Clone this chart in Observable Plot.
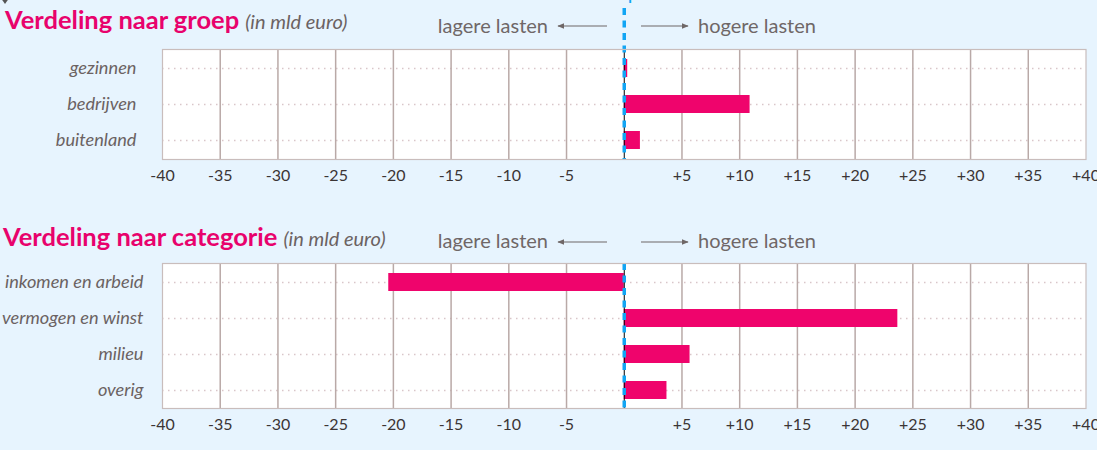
<!DOCTYPE html>
<html><head><meta charset="utf-8">
<script src="https://cdn.jsdelivr.net/npm/d3@7"></script>
<script src="https://cdn.jsdelivr.net/npm/@observablehq/plot@0.6"></script>
<style>
html,body{margin:0;padding:0;background:#e7f4fe;}
#wrap{position:relative;width:1097px;height:450px;overflow:hidden;font-family:Lato,sans-serif;}
.chart{position:absolute;left:0;}
#header{position:absolute;left:0;top:0;pointer-events:none;}
</style></head><body><div id="wrap"></div>
<script>
// ---- data ----
const groepCategories = ["gezinnen", "bedrijven", "buitenland"];
const groepValues = [0.3, 10.9, 1.4];
const categorieCategories = ["inkomen en arbeid", "vermogen en winst", "milieu", "overig"];
const categorieValues = [-20.4, 23.7, 5.7, 3.7];
const xTicks = [-40, -35, -30, -25, -20, -15, -10, -5, 5, 10, 15, 20, 25, 30, 35, 40];
const gridTicks = [-35, -30, -25, -20, -15, -10, -5, 5, 10, 15, 20, 25, 30, 35];
const titles = ["Verdeling naar groep", "Verdeling naar categorie"];
const subtitle = "(in mld euro)";
const leftLabel = "lagere lasten";
const rightLabel = "hogere lasten";
const baseLabel = "Basispad";

const PINK = "#ef046c";
const BLUE = "#12a5f4";
const fmt = d => d > 0 ? "+" + d : "-" + Math.abs(d);

const wrap = document.getElementById("wrap");

function makeChart(cats, vals, top, height, marginBottom, yPad, dashInset) {
  const data = cats.map((c, i) => ({category: c, value: vals[i]}));
  const svg = Plot.plot({
    width: 1097, height,
    marginLeft: 162, marginRight: 11.5, marginTop: 49, marginBottom,
    style: {background: "transparent", fontFamily: "Lato, sans-serif", overflow: "visible"},
    x: {domain: [-40, 40], label: null},
    y: {domain: cats, paddingInner: 0.51, paddingOuter: 0.255, label: null},
    marks: [
      Plot.frame({fill: "white", stroke: "none"}),
      Plot.gridY({stroke: "#d9c6c9", strokeOpacity: 1, strokeWidth: 1.5, strokeDasharray: "1.5,4.5"}),
      Plot.ruleX(gridTicks, {stroke: "#b9a9a7", strokeWidth: 1.5}),
      Plot.barX(data, {x1: 0, x2: "value", y: "category", fill: PINK}),
      Plot.ruleX([0], {stroke: "#000", strokeWidth: 1}),
      Plot.ruleX([0], {stroke: BLUE, strokeWidth: 3.5, strokeDasharray: "7,5.5", insetTop: dashInset}),
      Plot.frame({stroke: "#c9bdbc", strokeWidth: 1.2}),
      Plot.axisX({ticks: xTicks, tickSize: 0, tickPadding: 10, tickFormat: fmt, fontSize: 16, fill: "#3b3535", label: null}),
      Plot.axisY({tickSize: 0, tickPadding: yPad, fontSize: 18.2, fontStyle: "italic", fill: "#6b6262", label: null})
    ]
  });
  const div = document.createElement("div");
  div.className = "chart";
  div.style.top = top + "px";
  div.appendChild(svg);
  wrap.appendChild(div);
}

makeChart(groepCategories, groepValues, 0, 200, 41, 26, -41);
makeChart(categorieCategories, categorieValues, 214, 236, 42, 19, 0);

// header texts
const h = d3.select(wrap).append("svg").attr("id", "header")
  .attr("width", 1097).attr("height", 450).style("overflow", "visible");
const defs = h.append("defs");
defs.append("marker").attr("id", "ah").attr("viewBox", "0 0 10 10")
  .attr("refX", 9).attr("refY", 5).attr("markerWidth", 7).attr("markerHeight", 7)
  .attr("markerUnits", "userSpaceOnUse").attr("orient", "auto")
  .append("path").attr("d", "M0,1 L10,5 L0,9 Z").attr("fill", "#6f6767");

function header(x, yTitle, ySide, yArrow, titleText) {
  const t = h.append("text").attr("x", x).attr("y", yTitle)
    .attr("font-family", "Lato, sans-serif");
  t.append("tspan").attr("font-size", 25.5).attr("font-weight", "bold").attr("fill", "#e8026c").text(titleText);
  t.append("tspan").attr("dx", 6).attr("font-size", 20).attr("font-style", "italic").attr("fill", "#6b6262").text(subtitle);
  h.append("text").attr("x", 548).attr("y", ySide).attr("text-anchor", "end")
    .attr("font-family", "Lato, sans-serif").attr("font-size", 20).attr("fill", "#6f6767").text(leftLabel);
  h.append("text").attr("x", 698).attr("y", ySide)
    .attr("font-family", "Lato, sans-serif").attr("font-size", 20).attr("fill", "#6f6767").text(rightLabel);
  h.append("line").attr("x1", 607).attr("x2", 558).attr("y1", yArrow).attr("y2", yArrow)
    .attr("stroke", "#6f6767").attr("stroke-width", 1.2).attr("marker-end", "url(#ah)");
  h.append("line").attr("x1", 641).attr("x2", 688).attr("y1", yArrow).attr("y2", yArrow)
    .attr("stroke", "#6f6767").attr("stroke-width", 1.2).attr("marker-end", "url(#ah)");
}
header(5, 29, 33, 26, titles[0]);
header(3, 246, 248, 242, titles[1]);

h.append("text").attr("x", 623.5).attr("y", 0).attr("text-anchor", "middle")
  .attr("font-family", "Lato, sans-serif").attr("font-size", 15).attr("font-weight", "bold")
  .attr("fill", BLUE).text(baseLabel);
h.append("path").attr("d", "M-2,-6 L12,-6 L5,4 Z").attr("fill", "#555");
</script>
</body></html>
